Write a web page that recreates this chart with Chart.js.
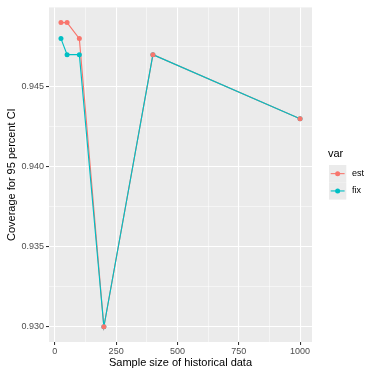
<!DOCTYPE html>
<html>
<head>
<meta charset="utf-8">
<script src="https://cdn.jsdelivr.net/npm/chart.js@4/dist/chart.umd.min.js"></script>
<style>
html,body{margin:0;padding:0;background:#fff;}
#wrap{width:371px;height:376px;position:relative;}
</style>
</head>
<body>
<div id="wrap"><canvas id="c" width="371" height="376"></canvas></div>
<script>
const sampleSizes = [25, 50, 100, 200, 400, 1000];
const estValues = [0.949, 0.949, 0.948, 0.930, 0.947, 0.943];
const fixValues = [0.948, 0.947, 0.947, 0.930, 0.947, 0.943];
const seriesNames = ['est', 'fix'];
const seriesColors = ['#F8766D', '#00BFC4'];
const xMajorTicks = [0, 250, 500, 750, 1000];
const xMinorTicks = [125, 375, 625, 875];
const yMajorTicks = [0.930, 0.935, 0.940, 0.945];
const yMinorTicks = [0.9325, 0.9375, 0.9425, 0.9475];
const xTitle = 'Sample size of historical data';
const yTitle = 'Coverage for 95 percent CI';
const legendTitle = 'var';

const FONT = "'Liberation Sans', Arial, sans-serif";
const toPts = vals => sampleSizes.map((x, i) => ({x: x, y: vals[i]}));

function range(vals, mult) {
  const mn = Math.min(...vals), mx = Math.max(...vals);
  const pad = (mx - mn) * mult;
  return [mn - pad, mx + pad];
}
const xr = range(sampleSizes, 0.05);
const yr = range(estValues.concat(fixValues), 0.05);

const isMajor = (v, list) => list.some(t => Math.abs(t - v) < 1e-9);

const panelBg = {
  id: 'panelBg',
  beforeDraw(chart) {
    const a = chart.chartArea, ctx = chart.ctx;
    ctx.save();
    ctx.fillStyle = '#EBEBEB';
    ctx.fillRect(a.left, a.top, a.right - a.left, a.bottom - a.top);
    ctx.restore();
  },
  afterDraw(chart) {
    const a = chart.chartArea, ctx = chart.ctx;
    ctx.save();
    ctx.fillStyle = '#000';
    ctx.font = '11px ' + FONT;
    ctx.textAlign = 'center';
    ctx.textBaseline = 'middle';
    ctx.fillText(xTitle, (a.left + a.right) / 2, 363);
    ctx.save();
    ctx.translate(12, (a.top + a.bottom) / 2);
    ctx.rotate(-Math.PI / 2);
    ctx.fillText(yTitle, 0, 0);
    ctx.restore();
    // legend
    ctx.textAlign = 'left';
    ctx.font = '11px ' + FONT;
    ctx.fillText(legendTitle, 328, 154);
    const kx = 329, ky0 = 165, ks = 17.3;
    seriesNames.forEach((name, i) => {
      const ky = ky0 + i * ks;
      ctx.fillStyle = '#EBEBEB';
      ctx.fillRect(kx, ky, ks, ks);
      ctx.strokeStyle = seriesColors[i];
      ctx.lineWidth = 1.1;
      ctx.beginPath();
      ctx.moveTo(kx + 1.7, ky + ks / 2);
      ctx.lineTo(kx + ks - 1.7, ky + ks / 2);
      ctx.stroke();
      ctx.fillStyle = seriesColors[i];
      ctx.beginPath();
      ctx.arc(kx + ks / 2, ky + ks / 2, 2.5, 0, Math.PI * 2);
      ctx.fill();
      ctx.fillStyle = '#000';
      ctx.font = '9px ' + FONT;
      ctx.fillText(name, 352, ky + ks / 2);
    });
    ctx.restore();
  }
};

const lineDs = (name, vals, color) => ({
  label: name + ' line', data: toPts(vals), borderColor: color, backgroundColor: color,
  showLine: true, borderWidth: 1.15, pointRadius: 0, pointHoverRadius: 0, tension: 0
});
const ptDs = (name, vals, color) => ({
  label: name, data: toPts(vals), borderColor: color, backgroundColor: color,
  showLine: false, pointRadius: 2.5, pointBorderWidth: 0, pointHoverRadius: 2.5
});

new Chart(document.getElementById('c'), {
  type: 'scatter',
  data: {
    datasets: [
      ptDs(seriesNames[0], estValues, seriesColors[0]),
      ptDs(seriesNames[1], fixValues, seriesColors[1]),
      lineDs(seriesNames[1], fixValues, seriesColors[1]),
      lineDs(seriesNames[0], estValues, seriesColors[0])
    ]
  },
  options: {
    responsive: false,
    animation: false,
    events: [],
    layout: {padding: {top: 6, right: 59, left: 0, bottom: 0}},
    plugins: {legend: {display: false}, tooltip: {enabled: false}},
    scales: {
      x: {
        type: 'linear', min: xr[0], max: xr[1],
        afterBuildTicks: s => { s.ticks = xMajorTicks.concat(xMinorTicks).sort((a,b)=>a-b).map(v => ({value: v})); },
        afterFit: s => { s.height = 34; },
        border: {display: false},
        grid: {
          color: '#FFFFFF',
          lineWidth: c => isMajor(c.tick.value, xMajorTicks) ? 1.07 : 0.53,
          tickColor: c => isMajor(c.tick.value, xMajorTicks) ? '#333333' : 'rgba(0,0,0,0)',
          tickLength: 3, drawTicks: true
        },
        ticks: {
          autoSkip: false, maxRotation: 0, padding: 1,
          color: '#4D4D4D', font: {family: FONT, size: 9},
          callback: v => isMajor(v, xMajorTicks) ? String(v) : ''
        }
      },
      y: {
        type: 'linear', min: yr[0], max: yr[1],
        afterBuildTicks: s => { s.ticks = yMajorTicks.concat(yMinorTicks).sort((a,b)=>a-b).map(v => ({value: v})); },
        afterFit: s => { s.width = 49; },
        border: {display: false},
        grid: {
          color: '#FFFFFF',
          lineWidth: c => isMajor(c.tick.value, yMajorTicks) ? 1.07 : 0.53,
          tickColor: c => isMajor(c.tick.value, yMajorTicks) ? '#333333' : 'rgba(0,0,0,0)',
          tickLength: 3, drawTicks: true
        },
        ticks: {
          autoSkip: false, padding: 2,
          color: '#4D4D4D', font: {family: FONT, size: 9},
          callback: v => isMajor(v, yMajorTicks) ? v.toFixed(3) : ''
        }
      }
    }
  },
  plugins: [panelBg]
});
</script>
</body>
</html>
